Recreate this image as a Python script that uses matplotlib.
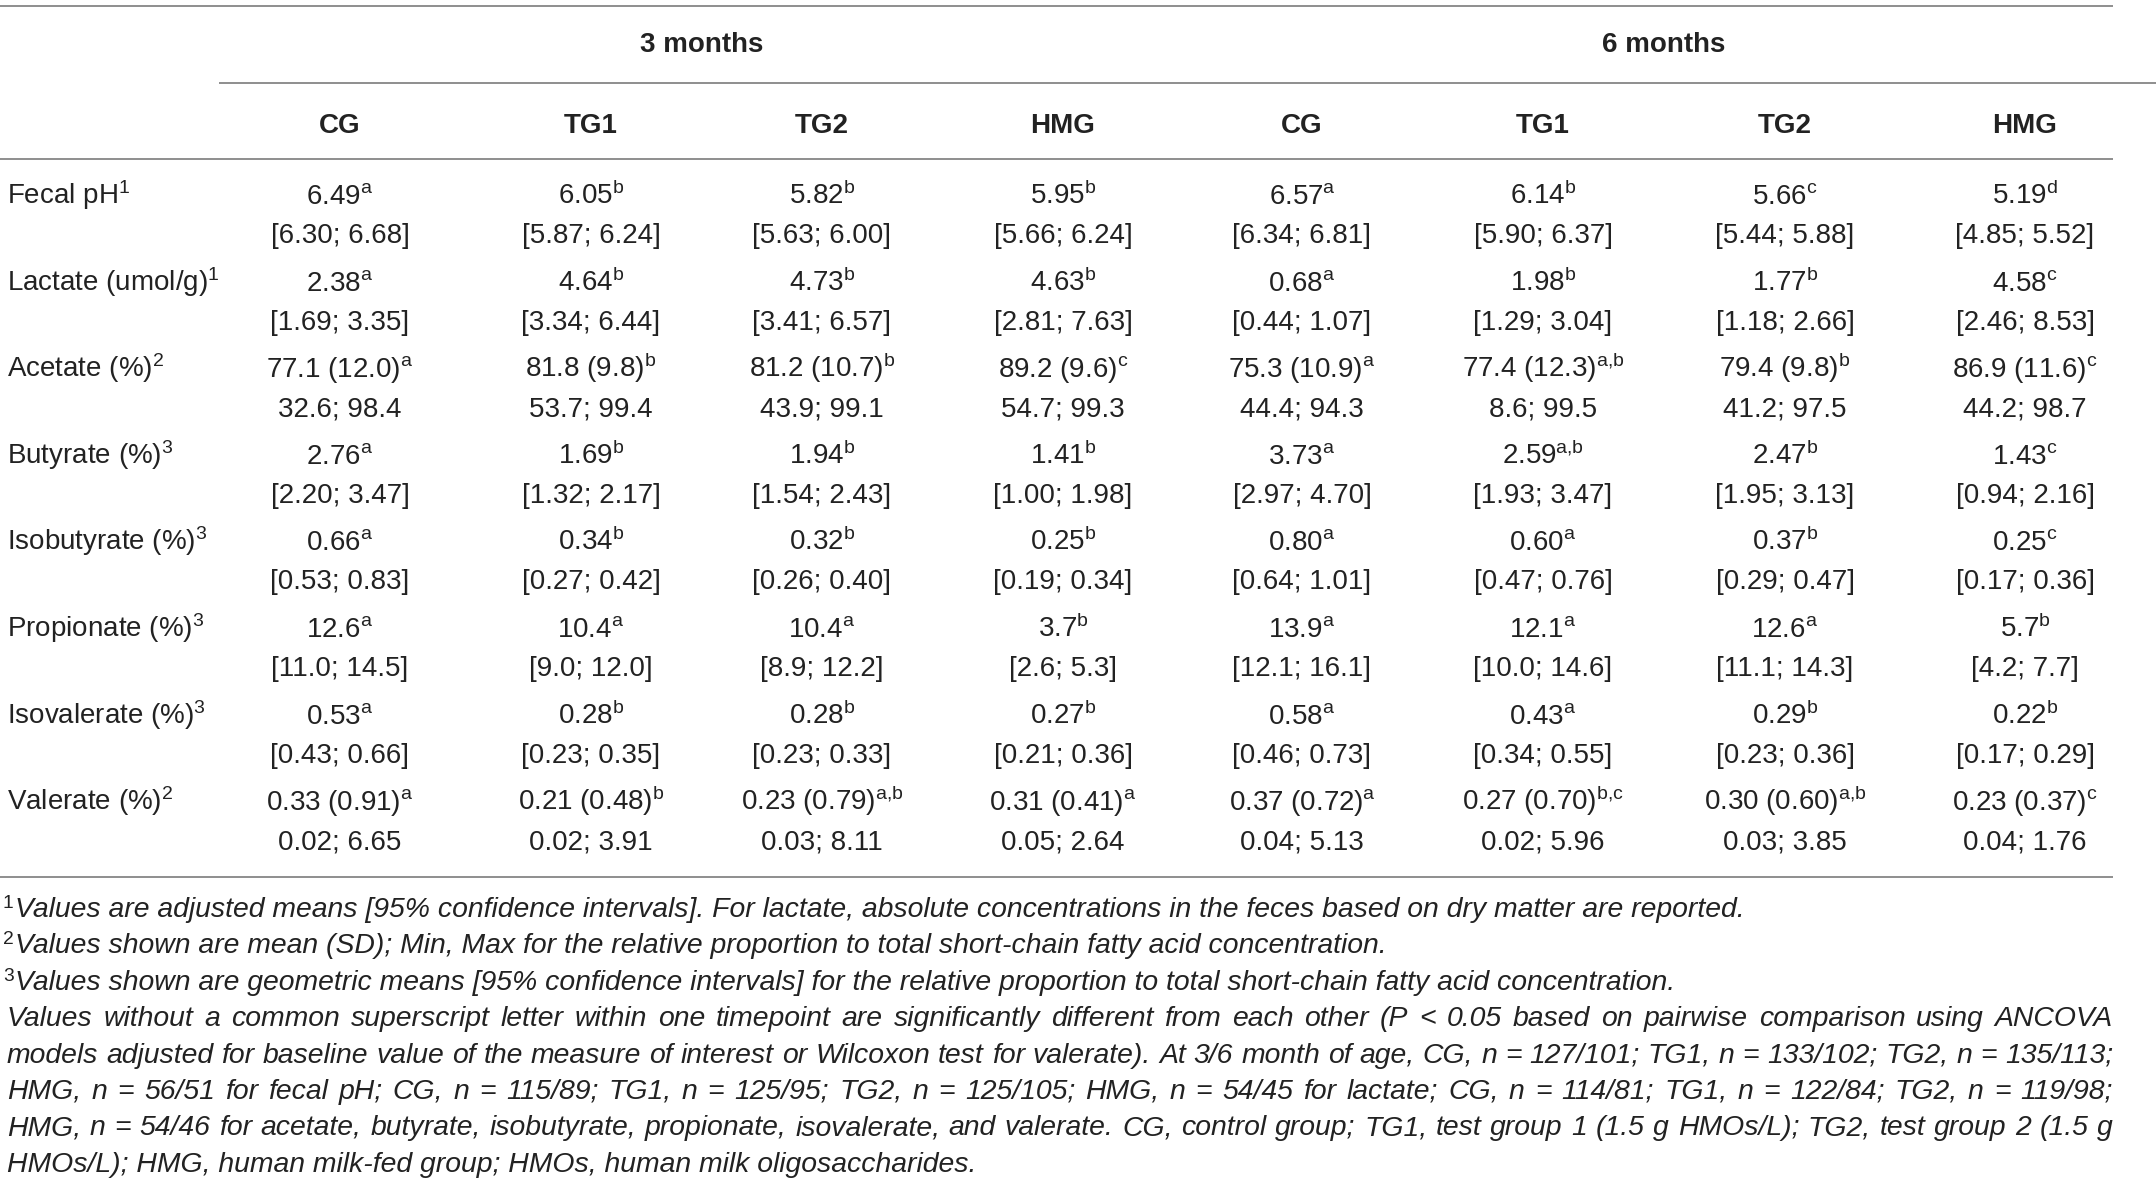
import matplotlib
matplotlib.use("Agg")
import matplotlib.pyplot as plt

plt.rcParams['font.family'] = ['Liberation Sans', 'DejaVu Sans']
plt.rcParams['mathtext.fontset'] = 'custom'
plt.rcParams['mathtext.rm'] = 'Liberation Sans'
plt.rcParams['mathtext.it'] = 'Liberation Sans:italic'
plt.rcParams['mathtext.bf'] = 'Liberation Sans:bold'

# table content
timepoints = ["3 months", "6 months"]
groups = ["CG", "TG1", "TG2", "HMG"]
row_labels = ["Fecal pH", "Lactate (umol/g)", "Acetate (%)", "Butyrate (%)",
              "Isobutyrate (%)", "Propionate (%)", "Isovalerate (%)", "Valerate (%)"]
row_notes = ["1", "1", "2", "3", "3", "3", "3", "2"]

est_rows = [
    ["6.49", "6.05", "5.82", "5.95", "6.57", "6.14", "5.66", "5.19"],
    ["2.38", "4.64", "4.73", "4.63", "0.68", "1.98", "1.77", "4.58"],
    ["77.1 (12.0)", "81.8 (9.8)", "81.2 (10.7)", "89.2 (9.6)",
     "75.3 (10.9)", "77.4 (12.3)", "79.4 (9.8)", "86.9 (11.6)"],
    ["2.76", "1.69", "1.94", "1.41", "3.73", "2.59", "2.47", "1.43"],
    ["0.66", "0.34", "0.32", "0.25", "0.80", "0.60", "0.37", "0.25"],
    ["12.6", "10.4", "10.4", "3.7", "13.9", "12.1", "12.6", "5.7"],
    ["0.53", "0.28", "0.28", "0.27", "0.58", "0.43", "0.29", "0.22"],
    ["0.33 (0.91)", "0.21 (0.48)", "0.23 (0.79)", "0.31 (0.41)",
     "0.37 (0.72)", "0.27 (0.70)", "0.30 (0.60)", "0.23 (0.37)"],
]
sig_rows = [
    ["a", "b", "b", "b", "a", "b", "c", "d"],
    ["a", "b", "b", "b", "a", "b", "b", "c"],
    ["a", "b", "b", "c", "a", "a,b", "b", "c"],
    ["a", "b", "b", "b", "a", "a,b", "b", "c"],
    ["a", "b", "b", "b", "a", "a", "b", "c"],
    ["a", "a", "a", "b", "a", "a", "a", "b"],
    ["a", "b", "b", "b", "a", "a", "b", "b"],
    ["a", "b", "a,b", "a", "a", "b,c", "a,b", "c"],
]
range_rows = [
    ["[6.30; 6.68]", "[5.87; 6.24]", "[5.63; 6.00]", "[5.66; 6.24]",
     "[6.34; 6.81]", "[5.90; 6.37]", "[5.44; 5.88]", "[4.85; 5.52]"],
    ["[1.69; 3.35]", "[3.34; 6.44]", "[3.41; 6.57]", "[2.81; 7.63]",
     "[0.44; 1.07]", "[1.29; 3.04]", "[1.18; 2.66]", "[2.46; 8.53]"],
    ["32.6; 98.4", "53.7; 99.4", "43.9; 99.1", "54.7; 99.3",
     "44.4; 94.3", "8.6; 99.5", "41.2; 97.5", "44.2; 98.7"],
    ["[2.20; 3.47]", "[1.32; 2.17]", "[1.54; 2.43]", "[1.00; 1.98]",
     "[2.97; 4.70]", "[1.93; 3.47]", "[1.95; 3.13]", "[0.94; 2.16]"],
    ["[0.53; 0.83]", "[0.27; 0.42]", "[0.26; 0.40]", "[0.19; 0.34]",
     "[0.64; 1.01]", "[0.47; 0.76]", "[0.29; 0.47]", "[0.17; 0.36]"],
    ["[11.0; 14.5]", "[9.0; 12.0]", "[8.9; 12.2]", "[2.6; 5.3]",
     "[12.1; 16.1]", "[10.0; 14.6]", "[11.1; 14.3]", "[4.2; 7.7]"],
    ["[0.43; 0.66]", "[0.23; 0.35]", "[0.23; 0.33]", "[0.21; 0.36]",
     "[0.46; 0.73]", "[0.34; 0.55]", "[0.23; 0.36]", "[0.17; 0.29]"],
    ["0.02; 6.65", "0.02; 3.91", "0.03; 8.11", "0.05; 2.64",
     "0.04; 5.13", "0.02; 5.96", "0.03; 3.85", "0.04; 1.76"],
]

note_marks = ["1", "2", "3"]
note_texts = [
    "Values are adjusted means [95% confidence intervals]. For lactate, absolute concentrations in the feces based on dry matter are reported.",
    "Values shown are mean (SD); Min, Max for the relative proportion to total short-chain fatty acid concentration.",
    "Values shown are geometric means [95% confidence intervals] for the relative proportion to total short-chain fatty acid concentration.",
]
notes_para = [
    "Values without a common superscript letter within one timepoint are significantly different from each other (P < 0.05 based on pairwise comparison using ANCOVA",
    "models adjusted for baseline value of the measure of interest or Wilcoxon test for valerate). At 3/6 month of age, CG, n = 127/101; TG1, n = 133/102; TG2, n = 135/113;",
    "HMG, n = 56/51 for fecal pH; CG, n = 115/89; TG1, n = 125/95; TG2, n = 125/105; HMG, n = 54/45 for lactate; CG, n = 114/81; TG1, n = 122/84; TG2, n = 119/98;",
    "HMG, n = 54/46 for acetate, butyrate, isobutyrate, propionate, isovalerate, and valerate. CG, control group; TG1, test group 1 (1.5 g HMOs/L); TG2, test group 2 (1.5 g",
    "HMOs/L); HMG, human milk-fed group; HMOs, human milk oligosaccharides.",
]

# layout (pixels)
W, H = 2156, 1192
col_x = [340, 591, 822, 1063, 1302, 1543, 1785, 2025]
row_y0, row_step, sub_step = 204, 86.6, 39
txt_col = "#222222"
line_col = "#707070"
fs = 20
fs_note = 20.4


def sup(s):
    # keep commas tight inside the superscript
    return r"$^{\mathrm{" + s.replace(",", "{,}") + "}}$"


fig = plt.figure(figsize=(W / 100, H / 100), dpi=100)
ax = fig.add_axes([0, 0, 1, 1])
ax.set_xlim(0, W)
ax.set_ylim(H, 0)
ax.axis('off')

# rules
ax.hlines([6, 158.5, 877], 0, 2113, color=line_col, lw=1.1)
ax.hlines(82.5, 219, W, color=line_col, lw=1.1)

# headers
for k, tp in enumerate(timepoints):
    cx = (col_x[4 * k] + col_x[4 * k + 3]) / 2
    ax.text(cx, 52, tp, ha='center', va='baseline', fontsize=fs,
            fontweight='bold', color=txt_col)
for j, x in enumerate(col_x):
    ax.text(x, 133, groups[j % 4], ha='center', va='baseline', fontsize=fs,
            fontweight='bold', color=txt_col)

# body
for i, lab in enumerate(row_labels):
    y = row_y0 + i * row_step
    ax.text(7, y, lab + sup(row_notes[i]), ha='left', va='baseline',
            fontsize=fs, color=txt_col)
    for j, x in enumerate(col_x):
        ax.text(x, y, est_rows[i][j] + sup(sig_rows[i][j]), ha='center',
                va='baseline', fontsize=fs, color=txt_col)
        ax.text(x, y + sub_step, range_rows[i][j], ha='center', va='baseline',
                fontsize=fs, color=txt_col)

# footnotes
note_y0, note_step = 917, 36.4
left, right = 7, 2113
for i, (mark, txt) in enumerate(zip(note_marks, note_texts)):
    y = note_y0 + i * note_step
    ax.text(3, y - 9, mark, ha='left', va='baseline', fontsize=fs_note * 0.68,
            color=txt_col)
    ax.text(15, y, txt, ha='left', va='baseline', fontsize=fs_note,
            style='italic', color=txt_col)

fig.canvas.draw()
renderer = fig.canvas.get_renderer()


def text_width(s):
    t = ax.text(0, 0, s, fontsize=fs_note, style='italic')
    w = t.get_window_extent(renderer).width
    t.remove()
    return w


space_w = text_width("a a") - text_width("aa")
for i, line in enumerate(notes_para):
    y = note_y0 + (len(note_texts) + i) * note_step
    if i == len(notes_para) - 1:
        ax.text(left, y, line, ha='left', va='baseline', fontsize=fs_note,
                style='italic', color=txt_col)
        continue
    words = line.split(" ")
    widths = [text_width(w) for w in words]
    gap = max((right - left - sum(widths)) / (len(words) - 1), space_w * 0.6)
    x = left
    for w, wd in zip(words, widths):
        ax.text(x, y, w, ha='left', va='baseline', fontsize=fs_note,
                style='italic', color=txt_col)
        x += wd + gap

fig.savefig("out.png", dpi=100)
